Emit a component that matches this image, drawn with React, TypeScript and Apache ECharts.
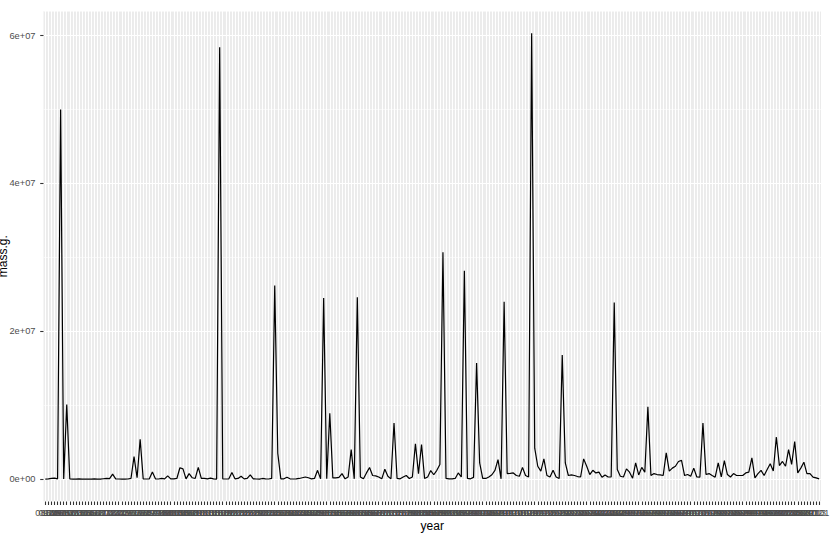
import React, { useEffect, useRef } from "react";
import * as echarts from "echarts";

// ---- categories (year, as a factor) ----
const EARLY_YEARS = [
  860, 920, 1399, 1490, 1491, 1575, 1583, 1600, 1621, 1623, 1628, 1631, 1635,
  1636, 1647, 1654, 1668, 1671, 1677, 1704, 1716, 1723, 1740, 1741, 1743, 1749,
  1750, 1751, 1753, 1766, 1768, 1784, 1785, 1787, 1790, 1791, 1794, 1795, 1798,
];
const MODERN_FIRST_YEAR = 1800;
const MODERN_LAST_YEAR = 2013;
const MODERN_YEARS = Array.from(
  { length: MODERN_LAST_YEAR - MODERN_FIRST_YEAR + 1 },
  (_, k) => MODERN_FIRST_YEAR + k
);
const LATE_YEARS = [2101];
const YEARS = [...EARLY_YEARS, ...MODERN_YEARS, ...LATE_YEARS].map((y) =>
  String(y).padStart(4, "0")
);

// ---- series values: total mass (g) per year ----
const MASS_G = [
  2e4, 5e4, 1.1e5, 1.5e5, 5e4, 5.0e7, 3e4, 1.01e7, 3e4, 1e4,
  2e4, 5e4, 2e4, 1e4, 3e4, 2e4, 4e4, 1e4, 2e4, 6e4,
  1e5, 8e4, 6.8e5, 5e4, 3e4, 2e4, 2e4, 3e4, 1e5, 3.05e6,
  2e5, 5.4e6, 5e4, 3e4, 5e4, 9.9e5, 5e4, 3e4, 1e5, 5e4,
  4.5e5, 5e4, 5e4, 1e5, 1.55e6, 1.4e6, 5e4, 7.6e5, 2e5, 1e5,
  1.6e6, 1e5, 1e5, 5e4, 1.5e5, 5e4, 2e4, 5.84e7, 5e4, 3e4,
  5e4, 9e5, 5e4, 1e5, 4e5, 5e4, 1e5, 5.8e5, 5e4, 3e4,
  2e4, 1e5, 5e4, 3e4, 1e5, 2.62e7, 3.5e6, 5e4, 5e4, 2.7e5,
  5e4, 3e4, 5e4, 1e5, 2e5, 3e5, 2e5, 5e4, 1e5, 1.2e6,
  5e4, 2.45e7, 5e4, 8.9e6, 1.8e5, 1.8e5, 2.5e5, 7.6e5, 5e4, 3e5,
  4.0e6, 5e4, 2.46e7, 3e5, 5e4, 8.5e5, 1.58e6, 5e5, 4.5e5, 3e5,
  5e4, 1.35e6, 4e5, 5e4, 7.6e6, 1e5, 5e4, 3e5, 5e5, 1e5,
  3e5, 4.8e6, 7.6e5, 4.7e6, 1e5, 3e5, 1.17e6, 6e5, 1.2e6, 2.0e6,
  3.07e7, 1e5, 5e4, 5e4, 1e5, 8.5e5, 3e5, 2.82e7, 1e5, 5e4,
  2.5e5, 1.57e7, 2.2e6, 1e5, 1e5, 3e5, 6e5, 1.2e6, 2.65e6, 5e4,
  2.4e7, 7.6e5, 8e5, 8.5e5, 5e5, 4e5, 1.6e6, 5e5, 3e5, 6.03e7,
  4.2e6, 1.75e6, 1.1e6, 2.75e6, 5e5, 3e5, 1.2e6, 3e5, 1e5, 1.68e7,
  2.2e6, 5e5, 5.8e5, 5e5, 3.6e5, 3e5, 2.75e6, 1.75e6, 6.3e5, 1.2e6,
  8.5e5, 9.5e5, 2.7e5, 5.8e5, 3e5, 3e5, 2.39e7, 1.3e6, 4e5, 3e5,
  1.4e6, 9.5e5, 1.4e5, 2.2e6, 5.8e5, 1.6e6, 9.5e5, 9.8e6, 5e5, 7.6e5,
  6.3e5, 5.8e5, 5e5, 3.55e6, 1.1e6, 1.5e6, 1.75e6, 2.4e6, 2.55e6, 5e5,
  6.3e5, 4e5, 1.5e6, 3e5, 2.7e5, 7.6e6, 6.3e5, 7.6e5, 5e5, 2.7e5,
  2.2e6, 3e5, 2.5e6, 6.3e5, 3e5, 7.6e5, 5e5, 5e5, 5e5, 8.5e5,
  9.5e5, 2.9e6, 1.8e5, 7.6e5, 1.2e6, 5e5, 1.3e6, 2.1e6, 1.1e6, 5.7e6,
  1.85e6, 2.4e6, 1.75e6, 4.0e6, 2.0e6, 5.1e6, 8.5e5, 1.5e6, 2.3e6, 7.6e5,
  7.6e5, 2.7e5, 1.8e5, 5e4,
];

// ---- tick labels on the y axis ----
const Y_BREAKS = [0, 2e7, 4e7, 6e7];
const X_TITLE = "year";
const Y_TITLE = "mass.g.";

const FONT = '"Liberation Sans", Arial, Helvetica, sans-serif';

function sci(v: number): string {
  if (v === 0) return "0e+00";
  const e = Math.floor(Math.log10(Math.abs(v)));
  const m = Math.round((v / Math.pow(10, e)) * 100) / 100;
  const sign = e < 0 ? "-" : "+";
  return `${m}e${sign}${String(Math.abs(e)).padStart(2, "0")}`;
}

export default function App() {
  const ref = useRef<HTMLDivElement | null>(null);

  useEffect(() => {
    if (!ref.current) return;
    const chart = echarts.init(ref.current, undefined, { renderer: "svg" });

    const n = YEARS.length;
    const PANEL = { left: 43.5, right: 821, top: 11, bottom: 501.5 };
    const expand = 0.6;
    const step = (PANEL.right - PANEL.left) / (n - 1 + 2 * expand);
    const dataLeft = PANEL.left + expand * step;
    const dataWidth = step * (n - 1);
    const panelH = PANEL.bottom - PANEL.top;

    const maxMass = Math.max(...MASS_G);
    const minMass = Math.min(0, ...MASS_G);
    const span = maxMass - minMass;
    const yMin = minMass - 0.05 * span;
    const yMax = maxMass + 0.05 * span;

    const option: any = {
      animation: false,
      backgroundColor: "#FFFFFF",
      textStyle: { fontFamily: FONT },
      grid: [
        {
          left: PANEL.left,
          top: PANEL.top,
          width: PANEL.right - PANEL.left,
          height: panelH,
          show: true,
          backgroundColor: "#EBEBEB",
          borderWidth: 0,
          containLabel: false,
          outerBoundsMode: "none",
        },
        {
          left: dataLeft,
          top: PANEL.top,
          width: dataWidth,
          height: panelH,
          show: false,
          containLabel: false,
          outerBoundsMode: "none",
        },
      ],
      xAxis: [
        { gridIndex: 0, type: "value", min: 0, max: 1, show: false },
        {
          gridIndex: 1,
          type: "category",
          data: YEARS,
          boundaryGap: false,
          position: "bottom",
          axisLine: { show: false, onZero: false },
          axisTick: {
            show: true,
            interval: 0,
            length: 3.5,
            lineStyle: { color: "#333333", width: 1.1 },
          },
          axisLabel: {
            interval: 0,
            fontSize: 9,
            color: "#4D4D4D",
            margin: 7,
            fontFamily: FONT,
          },
          splitLine: {
            show: true,
            interval: 0,
            lineStyle: { color: "#FFFFFF", width: 1.1 },
          },
          name: X_TITLE,
          nameLocation: "middle",
          nameGap: 18,
          nameMoveOverlap: false,
          nameTextStyle: { fontSize: 12, color: "#000000", fontFamily: FONT },
        },
      ],
      yAxis: [
        {
          gridIndex: 0,
          type: "value",
          min: yMin,
          max: yMax,
          splitNumber: 3,
          axisLine: { show: false },
          axisTick: {
            show: true,
            length: 3.3,
            customValues: Y_BREAKS,
            lineStyle: { color: "#333333", width: 1.1 },
          },
          axisLabel: {
            customValues: Y_BREAKS,
            fontSize: 9.3,
            color: "#4D4D4D",
            margin: 8,
            fontFamily: FONT,
            formatter: (v: number) => sci(v),
          },
          splitLine: {
            show: true,
            lineStyle: { color: "#FFFFFF", width: 1.1 },
          },
          name: Y_TITLE,
          nameLocation: "middle",
          nameRotate: 90,
          nameGap: 34.5,
          nameMoveOverlap: false,
          nameTextStyle: { fontSize: 12, color: "#000000", fontFamily: FONT },
        },
        {
          gridIndex: 0,
          type: "value",
          min: yMin,
          max: yMax,
          splitNumber: 7,
          position: "left",
          axisLine: { show: false },
          axisTick: { show: false },
          axisLabel: { show: false },
          splitLine: {
            show: true,
            lineStyle: { color: "#FFFFFF", width: 0.55 },
          },
        },
        { gridIndex: 1, type: "value", min: yMin, max: yMax, show: false },
      ],
      series: [
        {
          type: "line",
          xAxisIndex: 1,
          yAxisIndex: 2,
          data: MASS_G,
          showSymbol: false,
          symbol: "none",
          silent: true,
          z: 5,
          lineStyle: { color: "#000000", width: 1.2 },
        },
      ],
    };

    chart.setOption(option);
    return () => {
      chart.dispose();
    };
  }, []);

  return (
    <div
      ref={ref}
      style={{
        position: "fixed",
        left: 0,
        top: 0,
        width: 838,
        height: 535,
        background: "#FFFFFF",
      }}
    />
  );
}
